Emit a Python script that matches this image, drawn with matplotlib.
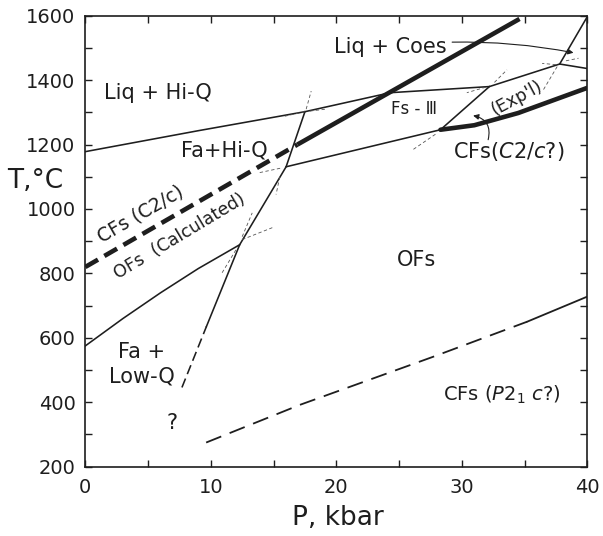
import matplotlib
matplotlib.use("Agg")
import matplotlib.pyplot as plt

# ---------------- data (P in kbar, T in deg C) ----------------
liq_P = [0, 9, 17.5, 24.3, 32.2, 37.8, 40]
liq_T = [1178, 1243, 1302, 1361, 1380, 1450, 1436]

quartz_P = [0, 3, 6, 9, 12.3]
quartz_T = [575, 660, 740, 815, 889]

faq_dash_P = [7.7, 9.65]
faq_dash_T = [446, 635]
faq_P = [9.65, 12.3, 16.0, 17.5]
faq_T = [635, 889, 1131, 1302]

ofs_upper_P = [16.0, 28.3]
ofs_upper_T = [1131, 1246]

fs3_cfs_P = [28.3, 32.2]
fs3_cfs_T = [1246, 1380]

cfs_exp_P = [28.3, 31.0, 34.5, 40]
cfs_exp_T = [1246, 1260, 1298, 1376]

calc_P = [0, 16.9]
calc_T = [820, 1200]

coes_P = [16.9, 34.6]
coes_T = [1200, 1590]

right_steep_P = [37.8, 40]
right_steep_T = [1450, 1597]

p21c_dash_P = [9.63, 17.1, 27.7, 35.2]
p21c_dash_T = [275, 392, 541, 650]
p21c_P = [35.2, 40]
p21c_T = [650, 728]

# metastable extensions (short thin dashed segments): (P0, T0, P1, T1)
ext_segments = [
    (12.5, 905, 14.9, 942),
    (12.5, 914, 13.3, 988),
    (12.0, 873, 10.9, 802),
    (15.5, 1100, 15.2, 1045),
    (13.9, 1113, 15.6, 1127),
    (17.6, 1310, 18.0, 1366),
    (17.5, 1302, 15.9, 1288),
    (17.9, 1304, 19.2, 1310),
    (27.9, 1232, 26.1, 1184),
    (32.6, 1393, 33.6, 1432),
    (31.9, 1378, 30.4, 1361),
    (37.6, 1442, 36.5, 1370),
    (37.5, 1448, 36.4, 1452),
    (38.3, 1460, 39.3, 1468),
]

x_ticks = [0, 10, 20, 30, 40]
y_ticks = [200, 400, 600, 800, 1000, 1200, 1400, 1600]

# ---------------- figure ----------------
plt.rcParams['font.family'] = ['DejaVu Sans']
fig = plt.figure(figsize=(6.03, 5.36), dpi=100)
ax = fig.add_axes([85.3 / 603, 1 - 466.7 / 536, (587.3 - 85.3) / 603, (466.7 - 15.7) / 536])

ink = '#1e1e1e'
thin = 1.15
thick = 3.3

ax.plot(liq_P, liq_T, color=ink, lw=thin, solid_joinstyle='round')
ax.plot(quartz_P, quartz_T, color=ink, lw=thin)
ax.plot(faq_dash_P, faq_dash_T, color=ink, lw=thin, ls=(0, (6, 3)))
ax.plot(faq_P, faq_T, color=ink, lw=thin)
ax.plot(ofs_upper_P, ofs_upper_T, color=ink, lw=thin)
ax.plot(fs3_cfs_P, fs3_cfs_T, color=ink, lw=thin)
ax.plot(cfs_exp_P, cfs_exp_T, color=ink, lw=thick, solid_capstyle='round')
ax.plot(calc_P, calc_T, color=ink, lw=thick, ls=(0, (3.2, 1.6)))
ax.plot(coes_P, coes_T, color=ink, lw=thick, solid_capstyle='butt')
ax.plot(right_steep_P, right_steep_T, color=ink, lw=thin)
ax.plot(p21c_dash_P, p21c_dash_T, color=ink, lw=1.3, ls=(0, (9, 5)))
ax.plot(p21c_P, p21c_T, color=ink, lw=1.3)

for p0, t0, p1, t1 in ext_segments:
    ax.plot([p0, p1], [t0, t1], color='#555555', lw=0.6, ls=(0, (4, 3)))

# ---------------- labels ----------------
fs = 15
ax.text(5.75, 1361, "Liq + Hi-Q", fontsize=fs, ha='center', va='center', color=ink)
ax.text(11.1, 1181, "Fa+Hi-Q", fontsize=fs, ha='center', va='center', color=ink)
ax.text(26.4, 842, "OFs", fontsize=fs, ha='center', va='center', color=ink)
ax.text(26.2, 1311, "Fs - Ⅲ", fontsize=12, ha='center', va='center', color=ink)
ax.text(4.5, 518, "Fa +\nLow-Q", fontsize=fs, ha='center', va='center',
        linespacing=1.25, color=ink)
ax.text(6.9, 336, "?", fontsize=fs, ha='center', va='center', color=ink)
ax.text(33.7, 1178, r"CFs($\it{C2/c?}$)", fontsize=fs, ha='center', va='center', color=ink)
ax.text(33.2, 423, r"CFs ($\mathit{P2_1\ c?}$)", fontsize=14, ha='center', va='center', color=ink)
ax.text(4.4, 985, "CFs (C2/c)", fontsize=13.5, ha='center', va='center',
        rotation=30, rotation_mode='anchor', color=ink)
ax.text(7.5, 915, "OFs  (Calculated)", fontsize=12.5, ha='center', va='center',
        rotation=31, rotation_mode='anchor', color=ink)
ax.text(34.4, 1345, "(Exp'l)", fontsize=12.5, ha='center', va='center',
        rotation=28, rotation_mode='anchor', color=ink)

ax.annotate("Liq + Coes", xy=(38.9, 1485), xytext=(24.3, 1504),
            fontsize=fs, ha='center', va='center', color=ink,
            arrowprops=dict(arrowstyle='-|>', lw=0.8, color=ink,
                            connectionstyle='arc3,rad=-0.08',
                            shrinkA=2, shrinkB=0, mutation_scale=8))
ax.annotate("", xy=(30.9, 1290), xytext=(32.1, 1215),
            arrowprops=dict(arrowstyle='-|>', lw=0.8, color=ink,
                            connectionstyle='arc3,rad=0.5',
                            shrinkA=0, shrinkB=0, mutation_scale=8))

# ---------------- axes ----------------
ax.set_xlim(0, 40)
ax.set_ylim(200, 1600)
ax.set_xticks(x_ticks)
ax.set_yticks(y_ticks)
ax.set_xticks([5, 15, 25, 35], minor=True)
ax.set_yticks([300, 500, 700, 900, 1100, 1300, 1500], minor=True)
ax.tick_params(which='both', direction='in', top=True, right=True,
               length=5, width=1.0, color=ink, labelsize=14, labelcolor=ink)
ax.tick_params(axis='x', which='major', pad=8)
ax.tick_params(axis='y', which='major', pad=7)
for s in ax.spines.values():
    s.set_linewidth(1.2)
    s.set_color(ink)

ax.set_xlabel("P, kbar", fontsize=19, color=ink, va='center')
ax.xaxis.set_label_coords(0.503, -0.113)
ax.set_ylabel("T,°C", fontsize=19, rotation=0, color=ink, ha='center', va='center')
ax.yaxis.set_label_coords(-0.1, 0.634)

fig.savefig("out.png", dpi=100)
